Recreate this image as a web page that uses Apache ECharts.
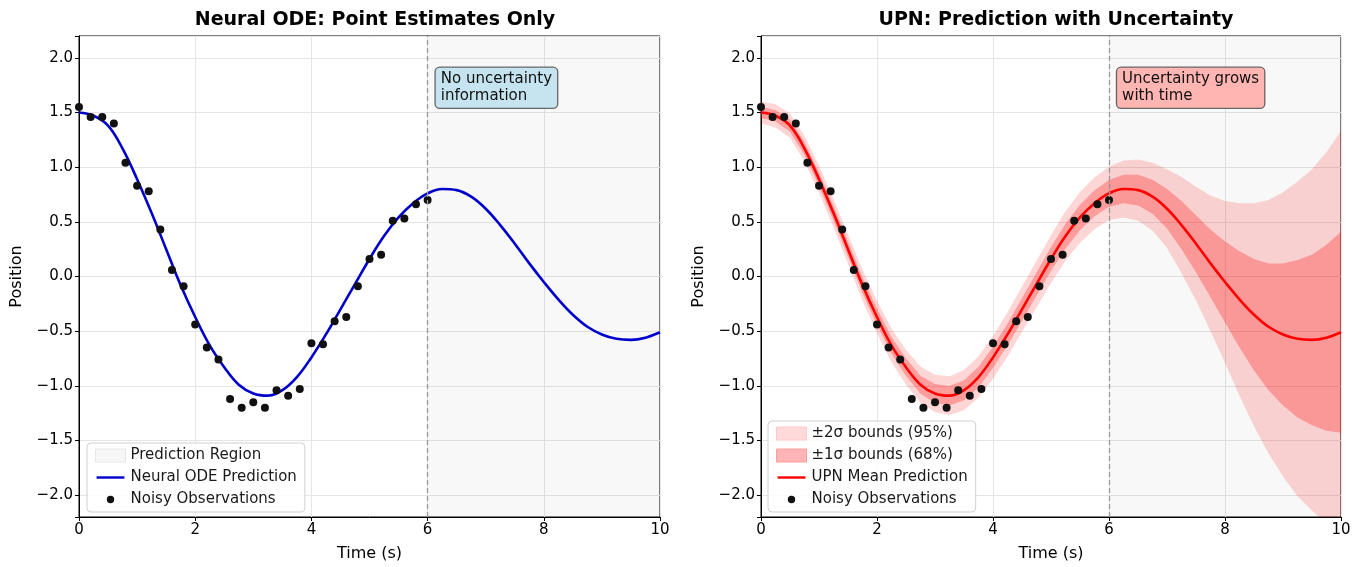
<!DOCTYPE html>
<html>
<head>
<meta charset="utf-8">
<script src="https://cdn.jsdelivr.net/npm/echarts@6/dist/echarts.min.js"></script>
<style>
html, body { margin: 0; background: #fff; }
#chart { width: 1364px; height: 567px; }
</style>
</head>
<body>
<div id="chart"></div>
<script>
// time grid of the model curves (s)
var predTime = [0, 0.25, 0.5, 0.75, 1, 1.25, 1.5, 1.75, 2, 2.25, 2.5, 2.75, 3, 3.25, 3.5, 3.75,
  4, 4.25, 4.5, 4.75, 5, 5.25, 5.5, 5.75, 6, 6.25, 6.5, 6.75, 7, 7.25, 7.5, 7.75,
  8, 8.25, 8.5, 8.75, 9, 9.25, 9.5, 9.75, 10];
// predicted position (same curve in both panels)
var meanPos = [1.50, 1.47, 1.38, 1.17, 0.89, 0.58, 0.25, -0.08, -0.37, -0.63, -0.83, -0.99, -1.07, -1.09, -1.04, -0.92,
  -0.74, -0.53, -0.30, -0.07, 0.16, 0.37, 0.54, 0.67, 0.76, 0.80, 0.79, 0.73, 0.62, 0.47, 0.30, 0.12,
  -0.05, -0.21, -0.35, -0.46, -0.53, -0.57, -0.58, -0.56, -0.51];
// UPN standard deviation
var sigma = [0.050, 0.053, 0.056, 0.059, 0.062, 0.065, 0.068, 0.071, 0.074, 0.077, 0.080, 0.083, 0.086, 0.089, 0.092, 0.095,
  0.098, 0.101, 0.104, 0.107, 0.110, 0.113, 0.116, 0.119, 0.122, 0.13, 0.14, 0.155, 0.18, 0.22, 0.26, 0.31,
  0.37, 0.44, 0.51, 0.58, 0.65, 0.72, 0.78, 0.85, 0.92];
// noisy observations
var obsTime = [0, 0.2, 0.4, 0.6, 0.8, 1.0, 1.2, 1.4, 1.6, 1.8, 2.0, 2.2, 2.4, 2.6, 2.8, 3.0,
  3.2, 3.4, 3.6, 3.8, 4.0, 4.2, 4.4, 4.6, 4.8, 5.0, 5.2, 5.4, 5.6, 5.8, 6.0];
var obsPos = [1.55, 1.46, 1.46, 1.40, 1.04, 0.83, 0.78, 0.43, 0.06, -0.09, -0.44, -0.65, -0.76, -1.12, -1.20, -1.15,
  -1.20, -1.04, -1.09, -1.03, -0.61, -0.62, -0.41, -0.37, -0.09, 0.16, 0.20, 0.51, 0.53, 0.66, 0.70];
var xTicks = [0, 10, 2];      // min, max, step
var yRange = [-2.2, 2.2];
var trainEnd = 6;

var FONT = 'DejaVu Sans';

function pairs(xs, ys) {
  return xs.map(function (x, i) { return [x, ys[i]]; });
}
var meanData = pairs(predTime, meanPos);
var obsData = pairs(obsTime, obsPos);

function xAxis(idx) {
  return {
    type: 'value', gridIndex: idx, min: xTicks[0], max: xTicks[1], interval: xTicks[2],
    name: 'Time (s)', nameLocation: 'middle', nameGap: 29,
    nameTextStyle: { fontSize: 16, color: '#000', fontFamily: FONT },
    axisLine: { show: true, onZero: false, lineStyle: { color: '#000', width: 1 } },
    axisTick: { show: true, length: 4, lineStyle: { color: '#000' } },
    axisLabel: { fontSize: 15, color: '#000', fontFamily: FONT, margin: 6 },
    splitLine: { show: true, lineStyle: { color: '#e5e5e5', width: 1 } }
  };
}
function yAxis(idx) {
  return {
    type: 'value', gridIndex: idx, min: yRange[0], max: yRange[1], splitNumber: 9,
    name: 'Position', nameLocation: 'middle', nameGap: 54,
    nameTextStyle: { fontSize: 16, color: '#000', fontFamily: FONT },
    axisLine: { show: true, onZero: false, lineStyle: { color: '#000', width: 1 } },
    axisTick: { show: true, length: 4, lineStyle: { color: '#000' } },
    axisLabel: {
      fontSize: 15, color: '#000', fontFamily: FONT, margin: 6,
      formatter: function (v) {
        if (Math.abs(Math.round(v * 2) - v * 2) > 1e-6) return '';
        return v.toFixed(1).replace('-', '\u2212');
      }
    },
    splitLine: { show: true, lineStyle: { color: '#e5e5e5', width: 1 } }
  };
}

// legend icons padded so they draw smaller than the legend slot
var dotIcon = 'path://M0,0M30,14M11,7a4,4 0 1,0 8,0a4,4 0 1,0 -8,0z';
var lineIcon = 'path://M0,0M30,14M0,5.7h30v2.6h-30z';

var regionMarks = {
  markArea: {
    silent: true,
    itemStyle: { color: 'rgba(0,0,0,0.028)' },
    data: [[{ xAxis: trainEnd }, { xAxis: xTicks[1] }]]
  },
  markLine: {
    silent: true, symbol: 'none', label: { show: false },
    lineStyle: { color: '#999', type: [5, 3], width: 1.3 },
    data: [{ xAxis: trainEnd }]
  }
};

// mean +/- k sigma band, drawn as one polygon through the axis scales
function bandSeries(name, k, opacity) {
  var rows = predTime.map(function (t, i) {
    return [t, meanPos[i] - k * sigma[i], meanPos[i] + k * sigma[i]];
  });
  return {
    name: name, type: 'custom', xAxisIndex: 1, yAxisIndex: 1, data: rows, silent: true,
    encode: { x: 0, y: [1, 2] }, z: 2,
    renderItem: function (params, api) {
      if (params.dataIndexInside !== 0) return null;
      var top = [], bottom = [];
      rows.forEach(function (r) {
        top.push(api.coord([r[0], r[2]]));
        bottom.push(api.coord([r[0], r[1]]));
      });
      var cs = params.coordSys;
      return {
        type: 'polygon',
        shape: { points: top.concat(bottom.reverse()) },
        style: { fill: '#ff0000', opacity: opacity },
        clipPath: { type: 'rect', shape: { x: cs.x, y: cs.y, width: cs.width, height: cs.height } }
      };
    }
  };
}

function legendBox(left, top, items) {
  return {
    orient: 'vertical', left: left, top: top, itemWidth: 30, itemHeight: 13, itemGap: 7,
    padding: [5, 8, 5, 8], selectedMode: false,
    backgroundColor: 'rgba(255,255,255,0.85)', borderColor: '#d0d0d0', borderWidth: 1, borderRadius: 4,
    textStyle: { fontSize: 15, color: '#1a1a1a', fontFamily: FONT },
    data: items
  };
}

var chart = echarts.init(document.getElementById('chart'));
chart.setOption({
  animation: false,
  backgroundColor: '#fff',
  title: [
    { text: 'Neural ODE: Point Estimates Only', left: 370, top: 6, textAlign: 'center',
      textStyle: { fontSize: 19, fontWeight: 'bold', color: '#000', fontFamily: FONT } },
    { text: 'UPN: Prediction with Uncertainty', left: 1051, top: 6, textAlign: 'center',
      textStyle: { fontSize: 19, fontWeight: 'bold', color: '#000', fontFamily: FONT } }
  ],
  grid: [
    { left: 79, right: 704, top: 36, bottom: 45, show: true, borderColor: '#000', borderWidth: 1 },
    { left: 761, right: 23, top: 36, bottom: 45, show: true, borderColor: '#000', borderWidth: 1 }
  ],
  xAxis: [xAxis(0), xAxis(1)],
  yAxis: [yAxis(0), yAxis(1)],
  legend: [
    legendBox(87, 443, [
      { name: 'Prediction Region', icon: 'rect', itemStyle: { color: '#f6f6f6', borderColor: '#e6e6e6', borderWidth: 1 } },
      { name: 'Neural ODE Prediction', icon: lineIcon, itemStyle: { color: '#0000cc' } },
      { name: 'Noisy Observations', icon: dotIcon }
    ]),
    legendBox(768, 421, [
      { name: '\u00b12\u03c3 bounds (95%)', icon: 'rect', itemStyle: { color: '#ffdada', borderColor: '#ffc8c8', borderWidth: 1 } },
      { name: '\u00b11\u03c3 bounds (68%)', icon: 'rect', itemStyle: { color: '#ffb5b5', borderColor: '#ff9c9c', borderWidth: 1 } },
      { name: 'UPN Mean Prediction', icon: lineIcon, itemStyle: { color: '#ff0000' } },
      { name: 'Noisy Observations', icon: dotIcon }
    ])
  ],
  series: [
    Object.assign({ name: 'Prediction Region', type: 'line', xAxisIndex: 0, yAxisIndex: 0, data: [],
      symbol: 'none', color: '#f6f6f6' }, regionMarks),
    { name: 'Neural ODE Prediction', type: 'line', xAxisIndex: 0, yAxisIndex: 0, data: meanData,
      smooth: 0.4, symbol: 'none', color: '#0000cc', lineStyle: { width: 2.6 }, z: 3 },
    { name: 'Noisy Observations', type: 'scatter', xAxisIndex: 0, yAxisIndex: 0, data: obsData,
      symbolSize: 8, color: '#111', itemStyle: { opacity: 1 }, z: 4 },

    Object.assign({ name: 'region2', type: 'line', xAxisIndex: 1, yAxisIndex: 1, data: [], symbol: 'none' }, regionMarks),
    bandSeries('\u00b12\u03c3 bounds (95%)', 2, 0.16),
    bandSeries('\u00b11\u03c3 bounds (68%)', 1, 0.27),
    { name: 'UPN Mean Prediction', type: 'line', xAxisIndex: 1, yAxisIndex: 1, data: meanData,
      smooth: 0.4, symbol: 'none', color: '#ff0000', lineStyle: { width: 2.6 }, z: 3 },
    { name: 'Noisy Observations', type: 'scatter', xAxisIndex: 1, yAxisIndex: 1, data: obsData,
      symbolSize: 8, color: '#111', itemStyle: { opacity: 1 }, z: 4 }
  ]
});

// annotation boxes, anchored in data coordinates
function noteBox(gridIdx, text, fill) {
  var p = chart.convertToPixel({ xAxisIndex: gridIdx, yAxisIndex: gridIdx }, [6.14, 1.91]);
  return {
    type: 'text', x: p[0], y: p[1], z: 100,
    style: {
      text: text, fill: '#111', fontSize: 15, fontFamily: FONT, lineHeight: 17,
      align: 'left', verticalAlign: 'top',
      backgroundColor: fill, borderColor: '#666', borderWidth: 1.3, borderRadius: 4, padding: [3, 5, 3, 5]
    }
  };
}
chart.setOption({
  graphic: [
    noteBox(0, 'No uncertainty\ninformation', '#c6e4ef'),
    noteBox(1, 'Uncertainty grows\nwith time', '#ffb5b2')
  ]
});
</script>
</body>
</html>
